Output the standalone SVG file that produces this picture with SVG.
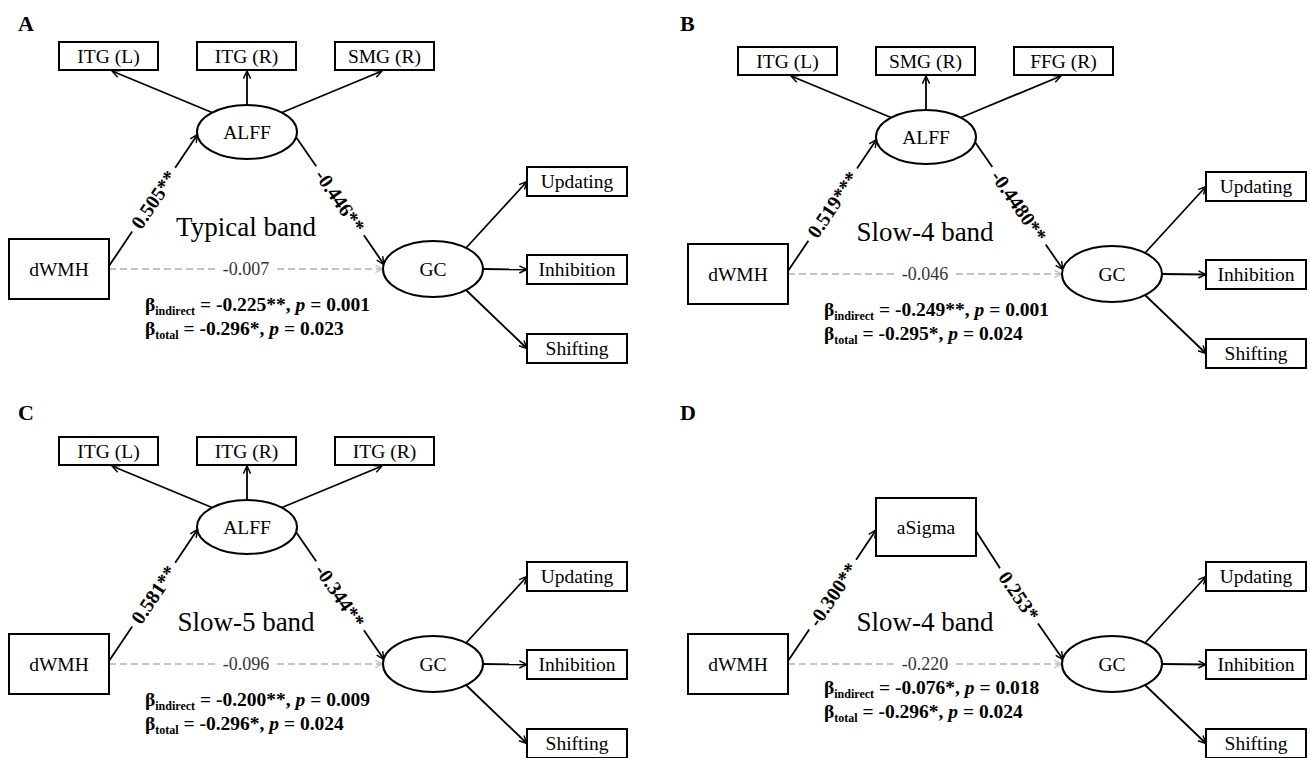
<svg xmlns="http://www.w3.org/2000/svg" width="1310" height="758" viewBox="0 0 1310 758" font-family="'Liberation Serif','Times New Roman',serif">
<defs>
<style>
text{font-family:"Liberation Serif","Times New Roman",serif;fill:#000}
.box{fill:#fff;stroke:#000;stroke-width:2}
.ell{fill:#fff;stroke:#000;stroke-width:2}
.nl{font-size:19.5px;text-anchor:middle}
.ar{stroke:#000;stroke-width:1.8;fill:none}
.ae{marker-end:url(#ah)}
.dash{stroke:#c4c4c4;stroke-width:1.8;stroke-dasharray:7 4;fill:none}
.dae{marker-end:url(#ahg)}
.coef{font-size:20px;font-weight:bold;text-anchor:middle}
.band{font-size:27px;text-anchor:middle}
.dir{font-size:18px;fill:#333;text-anchor:middle}
.beta{font-size:19.5px;font-weight:bold}
.sub{font-size:12px}
.pl{font-size:22px;font-weight:bold}
</style>
<marker id="ah" viewBox="0 0 10 10" refX="9.5" refY="5" markerWidth="9" markerHeight="9" markerUnits="userSpaceOnUse" orient="auto"><path d="M1,1 L9.5,5 L1,9" fill="none" stroke="#000" stroke-width="1.6"/></marker>
<marker id="ahg" viewBox="0 0 10 10" refX="9.5" refY="5" markerWidth="9" markerHeight="9" markerUnits="userSpaceOnUse" orient="auto"><path d="M1,1 L9.5,5 L1,9" fill="none" stroke="#c4c4c4" stroke-width="1.6"/></marker>
</defs>
<rect width="1310" height="758" fill="#fff"/>

<!-- Panel A -->
<g id="panelA">
<text class="pl" x="18" y="31">A</text>
<g id="A-connectors">
<line class="ar ae" x1="212" y1="112.5" x2="112" y2="71"/>
<line class="ar ae" x1="247" y1="105" x2="247" y2="71"/>
<line class="ar ae" x1="282" y1="112.5" x2="382" y2="71"/>
<line class="ar" x1="109" y1="266" x2="132.2" y2="231.6"/>
<line class="ar ae" x1="175.2" y1="167.7" x2="197.5" y2="134.5"/>
<text class="coef" transform="translate(153.7,199.6) rotate(-56)" dy="0.35em">0.505**</text>
<line class="ar" x1="296" y1="137" x2="316.2" y2="166.2"/>
<line class="ar ae" x1="363.9" y1="235.3" x2="384" y2="264.5"/>
<text class="coef" transform="translate(340,200.8) rotate(55.4)" dy="0.35em">-0.446**</text>
<line class="dash" x1="109" y1="269" x2="216" y2="269"/>
<line class="dash dae" x1="277" y1="269" x2="383" y2="269"/>
<text class="dir" x="246" y="275">-0.007</text>
<line class="ar ae" x1="466" y1="248" x2="527" y2="181.5"/>
<line class="ar ae" x1="483" y1="269" x2="527" y2="269.5"/>
<line class="ar ae" x1="466" y1="290" x2="527" y2="348.5"/>
</g>
<g id="A-ITG-L"><rect class="box" x="59" y="42" width="99" height="28"/><text class="nl" x="108.5" y="62.5">ITG (L)</text></g>
<g id="A-ITG-R"><rect class="box" x="197" y="42" width="99" height="28"/><text class="nl" x="246.5" y="62.5">ITG (R)</text></g>
<g id="A-SMG-R"><rect class="box" x="335" y="42" width="99" height="28"/><text class="nl" x="384.5" y="62.5">SMG (R)</text></g>
<g id="A-ALFF"><ellipse class="ell" cx="247" cy="132" rx="50" ry="27"/><text class="nl" x="247" y="138.5">ALFF</text></g>
<g id="A-dWMH"><rect class="box" x="9" y="239" width="100" height="60"/><text class="nl" x="59" y="275.5">dWMH</text></g>
<g id="A-GC"><ellipse class="ell" cx="433" cy="269" rx="50" ry="28"/><text class="nl" x="433" y="275.5">GC</text></g>
<g id="A-Updating"><rect class="box" x="527" y="167" width="100" height="29"/><text class="nl" x="577" y="188">Updating</text></g>
<g id="A-Inhibition"><rect class="box" x="527" y="255" width="100" height="29"/><text class="nl" x="577" y="276">Inhibition</text></g>
<g id="A-Shifting"><rect class="box" x="527" y="334" width="100" height="29"/><text class="nl" x="577" y="355">Shifting</text></g>
<text class="band" x="246" y="236">Typical band</text>
<text class="beta" x="145" y="311">β<tspan class="sub" dy="4">indirect</tspan><tspan dy="-4"> = -0.225**, </tspan><tspan font-style="italic">p</tspan> = 0.001</text>
<text class="beta" x="145" y="335">β<tspan class="sub" dy="4">total</tspan><tspan dy="-4"> = -0.296*, </tspan><tspan font-style="italic">p</tspan> = 0.023</text>
</g>

<!-- Panel B -->
<text class="pl" x="680" y="31">B</text>
<g id="panelB" transform="translate(679,5)">
<g id="B-connectors">
<line class="ar ae" x1="212" y1="112.5" x2="112" y2="71"/>
<line class="ar ae" x1="247" y1="105" x2="247" y2="71"/>
<line class="ar ae" x1="282" y1="112.5" x2="382" y2="71"/>
<line class="ar" x1="109" y1="266" x2="129.4" y2="235.7"/>
<line class="ar ae" x1="178" y1="163.5" x2="197.5" y2="134.5"/>
<text class="coef" transform="translate(153.7,199.6) rotate(-56)" dy="0.35em">0.519***</text>
<line class="ar" x1="296" y1="137" x2="313.3" y2="162.1"/>
<line class="ar ae" x1="366.7" y1="239.5" x2="384" y2="264.5"/>
<text class="coef" transform="translate(340,200.8) rotate(55.4)" dy="0.35em">-0.4480**</text>
<line class="dash" x1="109" y1="269" x2="216" y2="269"/>
<line class="dash dae" x1="277" y1="269" x2="383" y2="269"/>
<text class="dir" x="246" y="275">-0.046</text>
<line class="ar ae" x1="466" y1="248" x2="527" y2="181.5"/>
<line class="ar ae" x1="483" y1="269" x2="527" y2="269.5"/>
<line class="ar ae" x1="466" y1="290" x2="527" y2="348.5"/>
</g>
<g id="B-ITG-L"><rect class="box" x="59" y="42" width="99" height="28"/><text class="nl" x="108.5" y="62.5">ITG (L)</text></g>
<g id="B-SMG-R"><rect class="box" x="197" y="42" width="99" height="28"/><text class="nl" x="246.5" y="62.5">SMG (R)</text></g>
<g id="B-FFG-R"><rect class="box" x="335" y="42" width="99" height="28"/><text class="nl" x="384.5" y="62.5">FFG (R)</text></g>
<g id="B-ALFF"><ellipse class="ell" cx="247" cy="132" rx="50" ry="27"/><text class="nl" x="247" y="138.5">ALFF</text></g>
<g id="B-dWMH"><rect class="box" x="9" y="239" width="100" height="60"/><text class="nl" x="59" y="275.5">dWMH</text></g>
<g id="B-GC"><ellipse class="ell" cx="433" cy="269" rx="50" ry="28"/><text class="nl" x="433" y="275.5">GC</text></g>
<g id="B-Updating"><rect class="box" x="527" y="167" width="100" height="29"/><text class="nl" x="577" y="188">Updating</text></g>
<g id="B-Inhibition"><rect class="box" x="527" y="255" width="100" height="29"/><text class="nl" x="577" y="276">Inhibition</text></g>
<g id="B-Shifting"><rect class="box" x="527" y="334" width="100" height="29"/><text class="nl" x="577" y="355">Shifting</text></g>
<text class="band" x="246" y="236">Slow-4 band</text>
<text class="beta" x="145" y="311">β<tspan class="sub" dy="4">indirect</tspan><tspan dy="-4"> = -0.249**, </tspan><tspan font-style="italic">p</tspan> = 0.001</text>
<text class="beta" x="145" y="335">β<tspan class="sub" dy="4">total</tspan><tspan dy="-4"> = -0.295*, </tspan><tspan font-style="italic">p</tspan> = 0.024</text>
</g>

<!-- Panel C -->
<text class="pl" x="18" y="420">C</text>
<g id="panelC" transform="translate(0,395)">
<g id="C-connectors">
<line class="ar ae" x1="212" y1="112.5" x2="112" y2="71"/>
<line class="ar ae" x1="247" y1="105" x2="247" y2="71"/>
<line class="ar ae" x1="282" y1="112.5" x2="382" y2="71"/>
<line class="ar" x1="109" y1="266" x2="132.2" y2="231.6"/>
<line class="ar ae" x1="175.2" y1="167.7" x2="197.5" y2="134.5"/>
<text class="coef" transform="translate(153.7,199.6) rotate(-56)" dy="0.35em">0.581**</text>
<line class="ar" x1="296" y1="137" x2="316.2" y2="166.2"/>
<line class="ar ae" x1="363.9" y1="235.3" x2="384" y2="264.5"/>
<text class="coef" transform="translate(340,200.8) rotate(55.4)" dy="0.35em">-0.344**</text>
<line class="dash" x1="109" y1="269" x2="216" y2="269"/>
<line class="dash dae" x1="277" y1="269" x2="383" y2="269"/>
<text class="dir" x="246" y="275">-0.096</text>
<line class="ar ae" x1="466" y1="248" x2="527" y2="181.5"/>
<line class="ar ae" x1="483" y1="269" x2="527" y2="269.5"/>
<line class="ar ae" x1="466" y1="290" x2="527" y2="348.5"/>
</g>
<g id="C-ITG-L"><rect class="box" x="59" y="42" width="99" height="28"/><text class="nl" x="108.5" y="62.5">ITG (L)</text></g>
<g id="C-ITG-R1"><rect class="box" x="197" y="42" width="99" height="28"/><text class="nl" x="246.5" y="62.5">ITG (R)</text></g>
<g id="C-ITG-R2"><rect class="box" x="335" y="42" width="99" height="28"/><text class="nl" x="384.5" y="62.5">ITG (R)</text></g>
<g id="C-ALFF"><ellipse class="ell" cx="247" cy="132" rx="50" ry="27"/><text class="nl" x="247" y="138.5">ALFF</text></g>
<g id="C-dWMH"><rect class="box" x="9" y="239" width="100" height="60"/><text class="nl" x="59" y="275.5">dWMH</text></g>
<g id="C-GC"><ellipse class="ell" cx="433" cy="269" rx="50" ry="28"/><text class="nl" x="433" y="275.5">GC</text></g>
<g id="C-Updating"><rect class="box" x="527" y="167" width="100" height="29"/><text class="nl" x="577" y="188">Updating</text></g>
<g id="C-Inhibition"><rect class="box" x="527" y="255" width="100" height="29"/><text class="nl" x="577" y="276">Inhibition</text></g>
<g id="C-Shifting"><rect class="box" x="527" y="334" width="100" height="29"/><text class="nl" x="577" y="355">Shifting</text></g>
<text class="band" x="246" y="236">Slow-5 band</text>
<text class="beta" x="145" y="311">β<tspan class="sub" dy="4">indirect</tspan><tspan dy="-4"> = -0.200**, </tspan><tspan font-style="italic">p</tspan> = 0.009</text>
<text class="beta" x="145" y="335">β<tspan class="sub" dy="4">total</tspan><tspan dy="-4"> = -0.296*, </tspan><tspan font-style="italic">p</tspan> = 0.024</text>
</g>

<!-- Panel D -->
<text class="pl" x="680" y="420">D</text>
<g id="panelD" transform="translate(679,395)">
<g id="D-connectors">
<line class="ar" x1="109" y1="266" x2="130.2" y2="234.5"/>
<line class="ar ae" x1="177.1" y1="164.8" x2="197" y2="135"/>
<text class="coef" transform="translate(153.7,199.6) rotate(-56)" dy="0.35em">-0.300**</text>
<line class="ar" x1="297" y1="136" x2="321" y2="173.2"/>
<line class="ar ae" x1="359" y1="228.4" x2="384" y2="264.5"/>
<text class="coef" transform="translate(340,200.8) rotate(55.4)" dy="0.35em">0.253*</text>
<line class="dash" x1="109" y1="269" x2="216" y2="269"/>
<line class="dash dae" x1="277" y1="269" x2="383" y2="269"/>
<text class="dir" x="246" y="275">-0.220</text>
<line class="ar ae" x1="466" y1="248" x2="527" y2="181.5"/>
<line class="ar ae" x1="483" y1="269" x2="527" y2="269.5"/>
<line class="ar ae" x1="466" y1="290" x2="527" y2="348.5"/>
</g>
<g id="D-aSigma"><rect class="box" x="197" y="103" width="100" height="58"/><text class="nl" x="247" y="138.5">aSigma</text></g>
<g id="D-dWMH"><rect class="box" x="9" y="239" width="100" height="60"/><text class="nl" x="59" y="275.5">dWMH</text></g>
<g id="D-GC"><ellipse class="ell" cx="433" cy="269" rx="50" ry="28"/><text class="nl" x="433" y="275.5">GC</text></g>
<g id="D-Updating"><rect class="box" x="527" y="167" width="100" height="29"/><text class="nl" x="577" y="188">Updating</text></g>
<g id="D-Inhibition"><rect class="box" x="527" y="255" width="100" height="29"/><text class="nl" x="577" y="276">Inhibition</text></g>
<g id="D-Shifting"><rect class="box" x="527" y="334" width="100" height="29"/><text class="nl" x="577" y="355">Shifting</text></g>
<text class="band" x="246" y="236">Slow-4 band</text>
<text class="beta" x="145" y="299">β<tspan class="sub" dy="4">indirect</tspan><tspan dy="-4"> = -0.076*, </tspan><tspan font-style="italic">p</tspan> = 0.018</text>
<text class="beta" x="145" y="323">β<tspan class="sub" dy="4">total</tspan><tspan dy="-4"> = -0.296*, </tspan><tspan font-style="italic">p</tspan> = 0.024</text>
</g>
</svg>
